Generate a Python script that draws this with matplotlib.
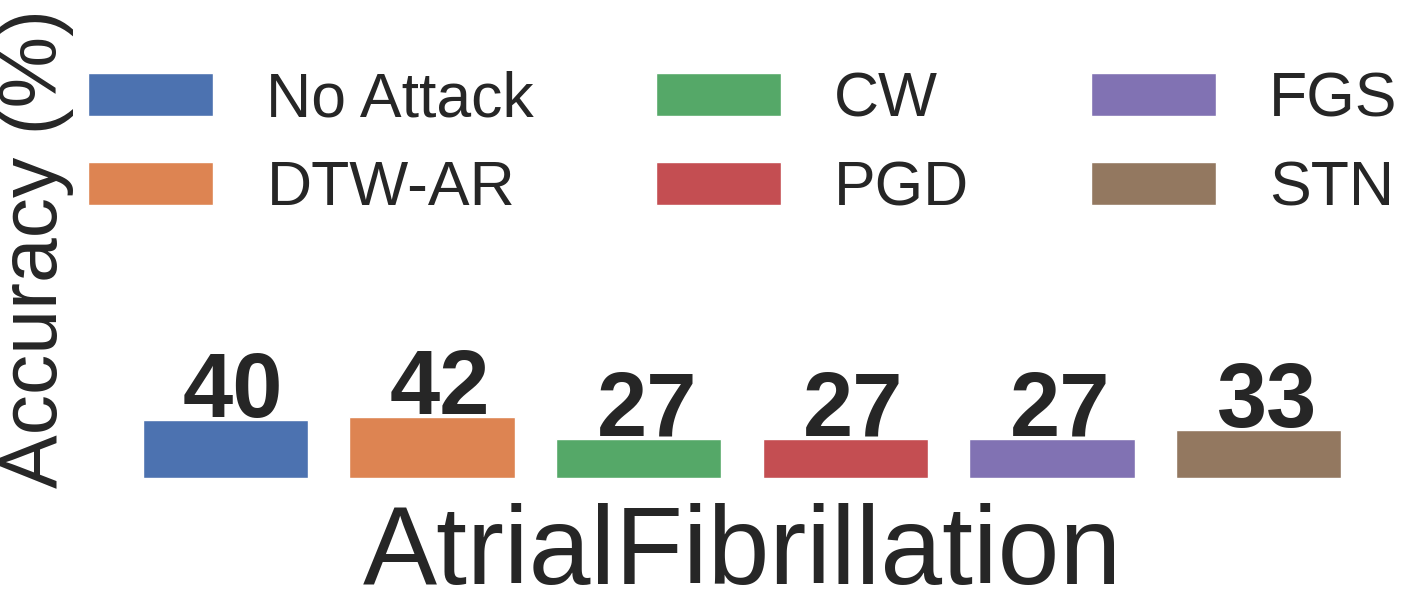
import matplotlib
matplotlib.use("Agg")
import matplotlib.pyplot as plt
import seaborn as sns

sns.set_theme(style="white")
plt.rcParams['font.family'] = ['Liberation Sans', 'DejaVu Sans']

methods = ["No Attack", "DTW-AR", "CW", "PGD", "FGS", "STN"]
accuracy = [40, 42, 27, 27, 27, 33]
dataset = "AtrialFibrillation"
colors = sns.color_palette("deep", 6)

fig = plt.figure(figsize=(14.2, 6.08), dpi=100)
ax = fig.add_axes([122 / 1420, 130 / 608, 1240 / 1420, 466 / 608])

x = range(len(methods))
bars = ax.bar(x, accuracy, width=0.8, color=colors, label=methods)
for xi, v in zip(x, accuracy):
    ax.annotate(str(v), (xi, v), xytext=(8, 3), textcoords="offset pixels",
                ha="center", va="baseline", fontsize=65, fontweight="bold",
                color="#262626")

ax.set_xlim(-0.5, len(methods) - 0.5)
ax.set_ylim(0, 321)
ax.set_xticks([])
ax.set_yticks([])
for s in ax.spines.values():
    s.set_visible(False)
ax.set_xlabel(dataset, fontsize=80, color="#262626", labelpad=18)
fig.text(-2 / 1420, 1 - 248 / 608, "Accuracy (%)", rotation=90, ha="left",
         va="center", fontsize=58, color="#262626")

fig.legend(bars, methods, loc="upper left", bbox_to_anchor=(32 / 1420, 1 - 14 / 608),
           ncol=3, fontsize=45, frameon=False, handlelength=2.0, handleheight=0.7,
           handletextpad=0.85, columnspacing=1.95, labelspacing=0.48,
           labelcolor="#262626")

fig.savefig("out.png", dpi=100)
